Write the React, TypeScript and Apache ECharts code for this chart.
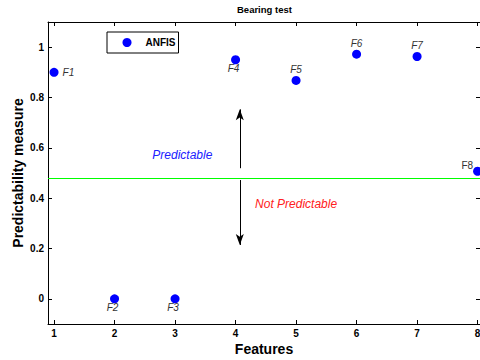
import React, { useEffect, useRef } from "react";
import * as echarts from "echarts";

const features = [1, 2, 3, 4, 5, 6, 7, 8];
const predictability = [0.9, 0, 0, 0.95, 0.868, 0.972, 0.963, 0.507];
const featureLabels = ["F1", "F2", "F3", "F4", "F5", "F6", "F7", "F8"];
const thresholdValue = 0.485;
const xTicks = [1, 2, 3, 4, 5, 6, 7, 8];
const yTicks = [0, 0.2, 0.4, 0.6, 0.8, 1];
const seriesName = "ANFIS";
const upArrow = [[4.07, 0.519], [4.07, 0.753]];
const downArrow = [[4.07, 0.472], [4.07, 0.214]];
const predictableAt = [3.12, 0.571];
const notPredictableAt = [5.0, 0.377];

const FONT = "'Liberation Sans', Arial, sans-serif";

function labelFor(name: string) {
  const base = { show: true, fontFamily: FONT, fontSize: 10, color: "#333333", fontStyle: "italic" as const };
  switch (name) {
    case "F1":
      return { ...base, position: "right", distance: 4 };
    case "F2":
    case "F3":
    case "F4":
      return { ...base, position: "bottom", distance: 0, offset: [-2, -1] };
    case "F8":
      return { ...base, position: "left", distance: 0, offset: [0, -6], fontStyle: "normal" as const };
    default:
      return { ...base, position: "top", distance: 1 };
  }
}

export default function App() {
  const ref = useRef<HTMLDivElement>(null);
  useEffect(() => {
    if (!ref.current) return;
    const chart = echarts.init(ref.current, undefined, { renderer: "svg" });
    const axisLine = { show: true, onZero: false, lineStyle: { color: "#000", width: 1 } };
    const tickStyle = { show: true, inside: true, length: 4, lineStyle: { color: "#000", width: 1 } };
    chart.setOption({
      animation: false,
      backgroundColor: "#fff",
      title: {
        text: "Bearing test",
        left: 237,
        top: 4,
        padding: 0,
        textStyle: { fontFamily: FONT, fontSize: 9.5, fontWeight: "bold", color: "#000" },
      },
      legend: {
        data: [seriesName],
        left: 107,
        top: 32,
        icon: "circle",
        itemWidth: 9,
        itemHeight: 9,
        padding: [5.5, 3, 5.5, 15.5],
        borderColor: "#000",
        borderWidth: 1,
        backgroundColor: "#fff",
        textStyle: { fontFamily: FONT, fontSize: 10, fontWeight: "bold", color: "#000", padding: [0, 0, 0, 9] },
      },
      grid: { left: 48, right: 0, top: 22, bottom: 36, containLabel: false, outerBoundsMode: "none" },
      xAxis: [
        {
          type: "value",
          min: 0.9,
          max: 8.04,
          position: "bottom",
          name: "Features",
          nameLocation: "middle",
          nameGap: 18,
          nameMoveOverlap: false,
          nameTextStyle: { fontFamily: FONT, fontSize: 14, fontWeight: "bold", color: "#000" },
          axisLine,
          axisTick: { ...tickStyle, customValues: xTicks },
          axisLabel: {
            customValues: xTicks,
            margin: 4,
            fontFamily: FONT,
            fontSize: 10,
            fontWeight: "bold",
            color: "#000",
          },
          splitLine: { show: false },
        },
        {
          type: "value",
          min: 0.9,
          max: 8.04,
          position: "top",
          axisLine,
          axisTick: { ...tickStyle, customValues: xTicks },
          axisLabel: { show: false },
          splitLine: { show: false },
        },
      ],
      yAxis: [
        {
          type: "value",
          min: -0.1,
          max: 1.1,
          position: "left",
          name: "Predictability measure",
          nameLocation: "middle",
          nameGap: 23,
          nameMoveOverlap: false,
          nameTextStyle: { fontFamily: FONT, fontSize: 14, fontWeight: "bold", color: "#000" },
          axisLine,
          axisTick: { ...tickStyle, customValues: yTicks },
          axisLabel: {
            customValues: yTicks,
            margin: 4,
            fontFamily: FONT,
            fontSize: 10,
            fontWeight: "bold",
            color: "#000",
            formatter: (v: number) => String(Math.round(v * 10) / 10),
          },
          splitLine: { show: false },
        },
        {
          type: "value",
          min: -0.1,
          max: 1.1,
          position: "right",
          axisLine,
          axisTick: { ...tickStyle, customValues: yTicks },
          axisLabel: { show: false },
          splitLine: { show: false },
        },
      ],
      series: [
        {
          name: seriesName,
          type: "scatter",
          symbol: "circle",
          symbolSize: 9,
          itemStyle: { color: "#0000ff", opacity: 1 },
          clip: false,
          data: features.map((f, i) => ({
            value: [f, predictability[i]],
            name: featureLabels[i],
            label: { ...labelFor(featureLabels[i]), formatter: featureLabels[i] },
          })),
          z: 5,
        },
        {
          name: "annotations",
          type: "line",
          data: [],
          silent: true,
          markLine: {
            silent: true,
            symbol: ["none", "none"],
            label: { show: false },
            data: [
              { yAxis: thresholdValue, lineStyle: { color: "#00ff00", width: 1, type: "solid" } },
              [
                { coord: upArrow[0], symbol: "none", lineStyle: { color: "#000", width: 1, type: "solid" } },
                { coord: upArrow[1], symbol: "arrow", symbolSize: [6, 11] },
              ],
              [
                { coord: downArrow[0], symbol: "none", lineStyle: { color: "#000", width: 1, type: "solid" } },
                { coord: downArrow[1], symbol: "arrow", symbolSize: [6, 11] },
              ],
            ],
          },
          markPoint: {
            silent: true,
            symbol: "circle",
            symbolSize: 0,
            data: [
              {
                coord: predictableAt,
                label: {
                  show: true,
                  position: "inside",
                  formatter: "Predictable",
                  fontFamily: FONT,
                  fontSize: 12,
                  fontStyle: "italic",
                  color: "#2020ff",
                },
              },
              {
                coord: notPredictableAt,
                label: {
                  show: true,
                  position: "inside",
                  formatter: "Not Predictable",
                  fontFamily: FONT,
                  fontSize: 12,
                  fontStyle: "italic",
                  color: "#ff2020",
                },
              },
            ],
          },
        },
      ],
    });
    return () => chart.dispose();
  }, []);
  return <div ref={ref} style={{ position: "fixed", left: 0, top: 0, width: 480, height: 360 }} />;
}
